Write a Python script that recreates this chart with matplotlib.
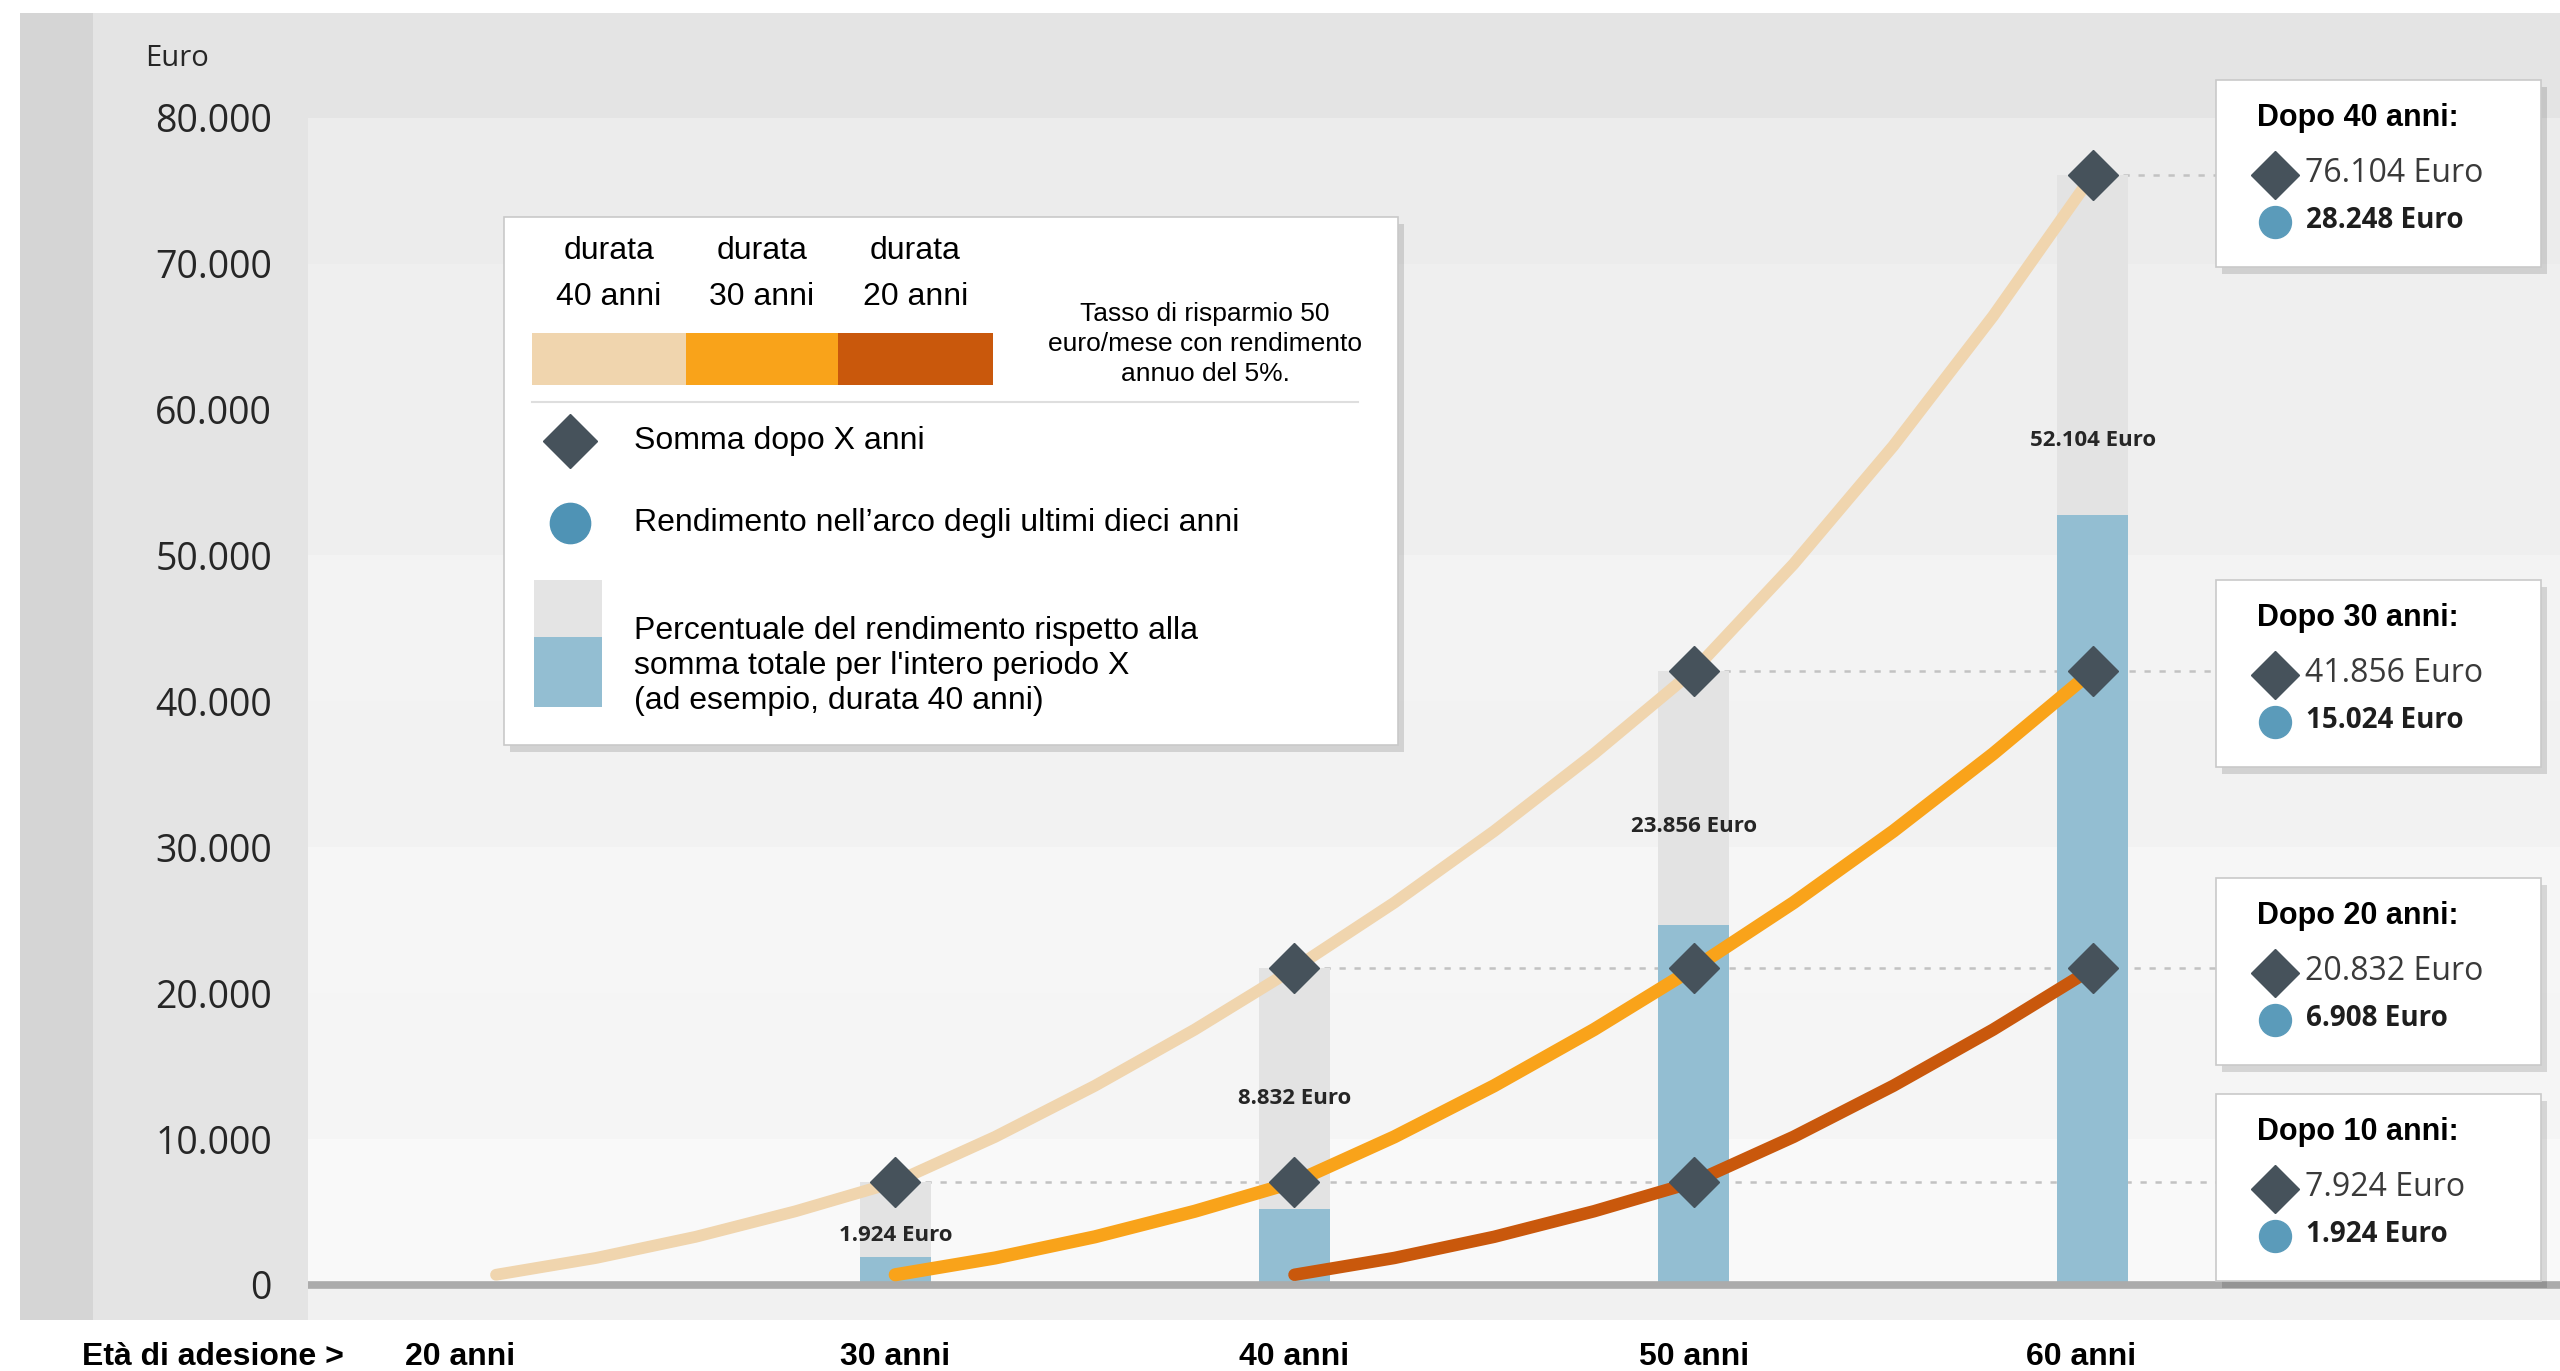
import matplotlib
matplotlib.use("Agg")
import matplotlib.pyplot as plt
from matplotlib.patches import Rectangle
from matplotlib.transforms import blended_transform_factory

# --- data ---
durations = [40, 30, 20]                 # durata (anni)
start_ages = [20, 30, 40]                # età di adesione for each durata
elapsed = [0, 2.5, 5, 7.5, 10, 12.5, 15, 17.5, 20, 22.5, 25, 27.5, 30, 32.5, 35, 37.5, 40]
balance = [700, 1850, 3300, 5050, 7050, 10150, 13650, 17500, 21700,
           26200, 31100, 36400, 42100, 49400, 57500, 66400, 76100]

bar_ages = [30, 40, 50, 60]
bar_total = [7050, 21700, 42100, 76100]
bar_return = [1900, 5200, 24700, 52800]
bar_labels = ["1.924 Euro", "8.832 Euro", "23.856 Euro", "52.104 Euro"]

age_ticks = [20, 30, 40, 50, 60]
age_labels = ["20 anni", "30 anni", "40 anni", "50 anni", "60 anni"]
y_ticks = [0, 10000, 20000, 30000, 40000, 50000, 60000, 70000, 80000]
y_labels = ["0", "10.000", "20.000", "30.000", "40.000", "50.000", "60.000", "70.000", "80.000"]

box_titles = ["Dopo 40 anni:", "Dopo 30 anni:", "Dopo 20 anni:", "Dopo 10 anni:"]
box_sum = ["76.104 Euro", "41.856 Euro", "20.832 Euro", "7.924 Euro"]
box_ret = ["28.248 Euro", "15.024 Euro", "6.908 Euro", "1.924 Euro"]

# --- style ---
line_colors = ["#F0D5AE", "#F9A31A", "#C9580C"]
line_widths = [8.5, 9.5, 9]
diamond_c = "#46525B"
circle_c = "#5B9BBA"
blue_bar = "#93BED2"
gray_bar = "#E3E3E3"
label_y = [3360, 12750, 31450, 57840]     # where the bar labels sit
age_label_shift = [-0.9, 0, 0, 0, -0.3]   # small nudges of the age labels
box_tops = [80, 580, 878, 1094]           # px from top
ARIAL = "Liberation Sans"
GEO = "Open Sans"

W, H = 2560, 1371
fig = plt.figure(figsize=(W / 100, H / 100), dpi=100)
fig.patch.set_facecolor("white")

# background panel (pixel coordinates)
bg = fig.add_axes([0, 0, 1, 1], zorder=0)
bg.set_xlim(0, W)
bg.set_ylim(H, 0)
bg.axis("off")
bg.add_patch(Rectangle((20, 13), W - 20, 1307, fc="#e4e4e4", lw=0))
bg.add_patch(Rectangle((20, 13), 73, 1307, fc="#d5d5d5", lw=0))

# main chart
ax = fig.add_axes([308 / W, 51 / H, (W - 308) / W, (1320 - 117.6) / H], zorder=1)
ax.patch.set_alpha(0)
ax.set_xlim(15.29, 71.7)
ax.set_ylim(-2400, 80000)
for s in ax.spines.values():
    s.set_visible(False)

n_bands = len(y_ticks) - 1
for k in range(n_bands):
    g = 0.968 - 0.05 * k / n_bands + (0.008 if k % 2 == 0 else 0)
    ax.axhspan(y_ticks[k], y_ticks[k + 1], color=(g, g, g), lw=0, zorder=0)
ax.axhspan(-2400, 0, color="#f1f1f1", lw=0, zorder=0)

# dotted guide lines from the 40-year diamonds to the boxes
for e_val in [10, 20, 30, 40]:
    v = balance[elapsed.index(e_val)]
    ax.plot([start_ages[0] + e_val, 63.1], [v, v], color="#c2c2c2", lw=1.8,
            ls=(0, (2.5, 3.5)), zorder=1.5)

ax.bar(bar_ages, bar_total, width=1.78, color=gray_bar, zorder=2)
ax.bar(bar_ages, bar_return, width=1.78, color=blue_bar, zorder=2.1)
ax.axhline(0, color="#ababab", lw=5.5, zorder=2.6)

for i, (age, txt) in enumerate(zip(bar_ages, bar_labels)):
    ax.text(age, label_y[i], txt, ha="center", va="center", fontsize=16,
            weight="bold", family=GEO, color="#262626", zorder=5)

for s_age, dur, col, lw in zip(start_ages, durations, line_colors, line_widths):
    n = elapsed.index(dur) + 1
    xs = [s_age + e for e in elapsed[:n]]
    ax.plot(xs, balance[:n], color=col, lw=lw, solid_capstyle="round",
            solid_joinstyle="round", zorder=3)
    dx = [s_age + e for e in elapsed[:n] if e > 0 and e % 10 == 0]
    dy = [b for e, b in zip(elapsed[:n], balance[:n]) if e > 0 and e % 10 == 0]
    ax.plot(dx, dy, ls="none", marker="D", ms=25, color=diamond_c, zorder=4)

ax.set_yticks(y_ticks, y_labels)
ax.tick_params(axis="y", length=0, pad=26, labelsize=27, labelcolor="#262626")
for t in ax.get_yticklabels():
    t.set_family(GEO)
ax.set_xticks([])

trans = blended_transform_factory(ax.transData, fig.transFigure)
for age, txt, dx in zip(age_ticks, age_labels, age_label_shift):
    ax.text(age + dx, 1 - 1365 / H, txt, transform=trans, ha="center", va="baseline",
            fontsize=23, weight="bold", family=ARIAL, color="black", clip_on=False)

# overlay: legend and info boxes (pixel coordinates)
fg = fig.add_axes([0, 0, 1, 1], zorder=2)
fg.set_xlim(0, W)
fg.set_ylim(H, 0)
fg.axis("off")
fg.patch.set_alpha(0)

fg.text(145, 59, "Euro", fontsize=21, family=GEO, va="center", color="#262626")
fg.text(82, 1365, "Età di adesione >", fontsize=23, weight="bold", family=ARIAL,
        va="baseline", color="black")


def card(x, y, w, h):
    fg.add_patch(Rectangle((x + 6, y + 7), w, h, fc="black", alpha=0.13, lw=0))
    fg.add_patch(Rectangle((x, y), w, h, fc="white", ec="#c9c9c9", lw=1.2))


# legend box
card(504, 217, 894, 528)
seg_x = [532, 686, 838, 993]
for i, d in enumerate(durations):
    cx = (seg_x[i] + seg_x[i + 1]) / 2
    fg.text(cx, 251, "durata", ha="center", va="center", fontsize=23, family=ARIAL)
    fg.text(cx, 297, f"{d} anni", ha="center", va="center", fontsize=23, family=ARIAL)
    fg.add_patch(Rectangle((seg_x[i], 333), seg_x[i + 1] - seg_x[i], 52,
                           fc=line_colors[i], lw=0))
fg.text(1205, 344, "Tasso di risparmio 50\neuro/mese con rendimento\nannuo del 5%.",
        ha="center", va="center", fontsize=19, family=ARIAL, linespacing=1.3)
fg.plot([532, 1358], [402, 402], color="#dedede", lw=1.5)
fg.plot(570, 441, marker="D", ms=28, color=diamond_c)
fg.text(634, 441, "Somma dopo X anni", va="center", fontsize=23, family=ARIAL)
fg.plot(570, 523, marker="o", ms=29, color="#4F93B5")
fg.text(634, 523, "Rendimento nell\u2019arco degli ultimi dieci anni", va="center",
        fontsize=23, family=ARIAL)
fg.add_patch(Rectangle((534, 580), 68, 57, fc="#e4e4e4", lw=0))
fg.add_patch(Rectangle((534, 637), 68, 70, fc=blue_bar, lw=0))
fg.text(634, 666, "Percentuale del rendimento rispetto alla\nsomma totale per l'intero periodo X\n"
        "(ad esempio, durata 40 anni)", va="center", fontsize=23, family=ARIAL,
        linespacing=1.2)

# info boxes on the right
for top, title, s_txt, r_txt in zip(box_tops, box_titles, box_sum, box_ret):
    left = 2216
    card(left, top, 325, 187)
    fg.text(left + 41, top + 38, title, fontsize=22, weight="bold", family=ARIAL,
            va="center", color="black")
    fg.plot(left + 59, top + 95, marker="D", ms=24, color=diamond_c)
    fg.text(left + 89, top + 93, s_txt, fontsize=23, family=GEO, va="center",
            color="#3a3a3a")
    fg.plot(left + 59, top + 142, marker="o", ms=23, color=circle_c)
    fg.text(left + 90, top + 141, r_txt, fontsize=20, weight="bold", family=GEO,
            va="center", color="#1e1e1e")

fig.savefig("out.png", dpi=100, facecolor="white")
